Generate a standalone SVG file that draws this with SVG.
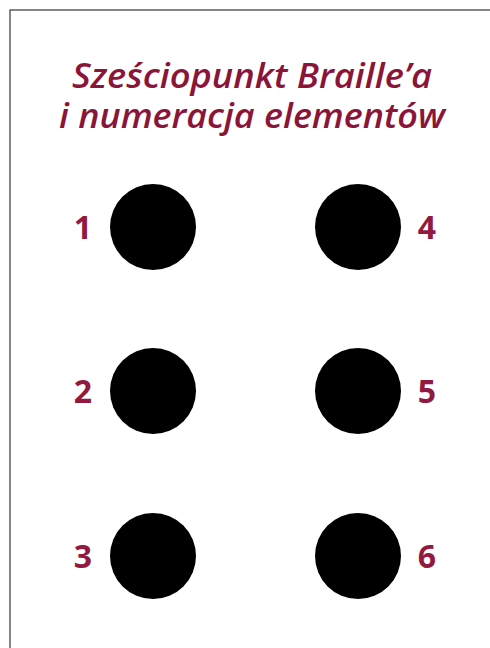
<svg xmlns="http://www.w3.org/2000/svg" width="490" height="648" viewBox="0 0 490 648">
<style>
.title{font-family:"Open Sans","Liberation Sans",sans-serif;font-style:italic;font-weight:600;font-size:35px;fill:#8a1538;text-anchor:middle}
.num{font-family:"Open Sans","Liberation Sans",sans-serif;font-weight:700;font-size:32px;fill:#921a40;text-anchor:middle}
.dot{fill:#000}
</style>
<rect width="490" height="648" fill="#fff"/>
<rect x="10" y="10" width="500" height="660" fill="none" stroke="#444" stroke-width="1.3"/>
<g id="title">
<text class="title"><tspan x="252" y="88" textLength="360" lengthAdjust="spacingAndGlyphs">Sześciopunkt Braille’a</tspan><tspan x="252" y="128" textLength="386" lengthAdjust="spacingAndGlyphs">i numeracja elementów</tspan></text>
</g>
<g id="dot1"><circle class="dot" cx="153" cy="227" r="43"/><text class="num" x="83" y="239">1</text></g>
<g id="dot2"><circle class="dot" cx="153" cy="391" r="43"/><text class="num" x="83" y="403">2</text></g>
<g id="dot3"><circle class="dot" cx="153" cy="556" r="43"/><text class="num" x="83" y="568">3</text></g>
<g id="dot4"><circle class="dot" cx="358" cy="227" r="43"/><text class="num" x="427" y="239">4</text></g>
<g id="dot5"><circle class="dot" cx="358" cy="391" r="43"/><text class="num" x="427" y="403">5</text></g>
<g id="dot6"><circle class="dot" cx="358" cy="556" r="43"/><text class="num" x="427" y="568">6</text></g>
<g id="connectors"/>
</svg>
